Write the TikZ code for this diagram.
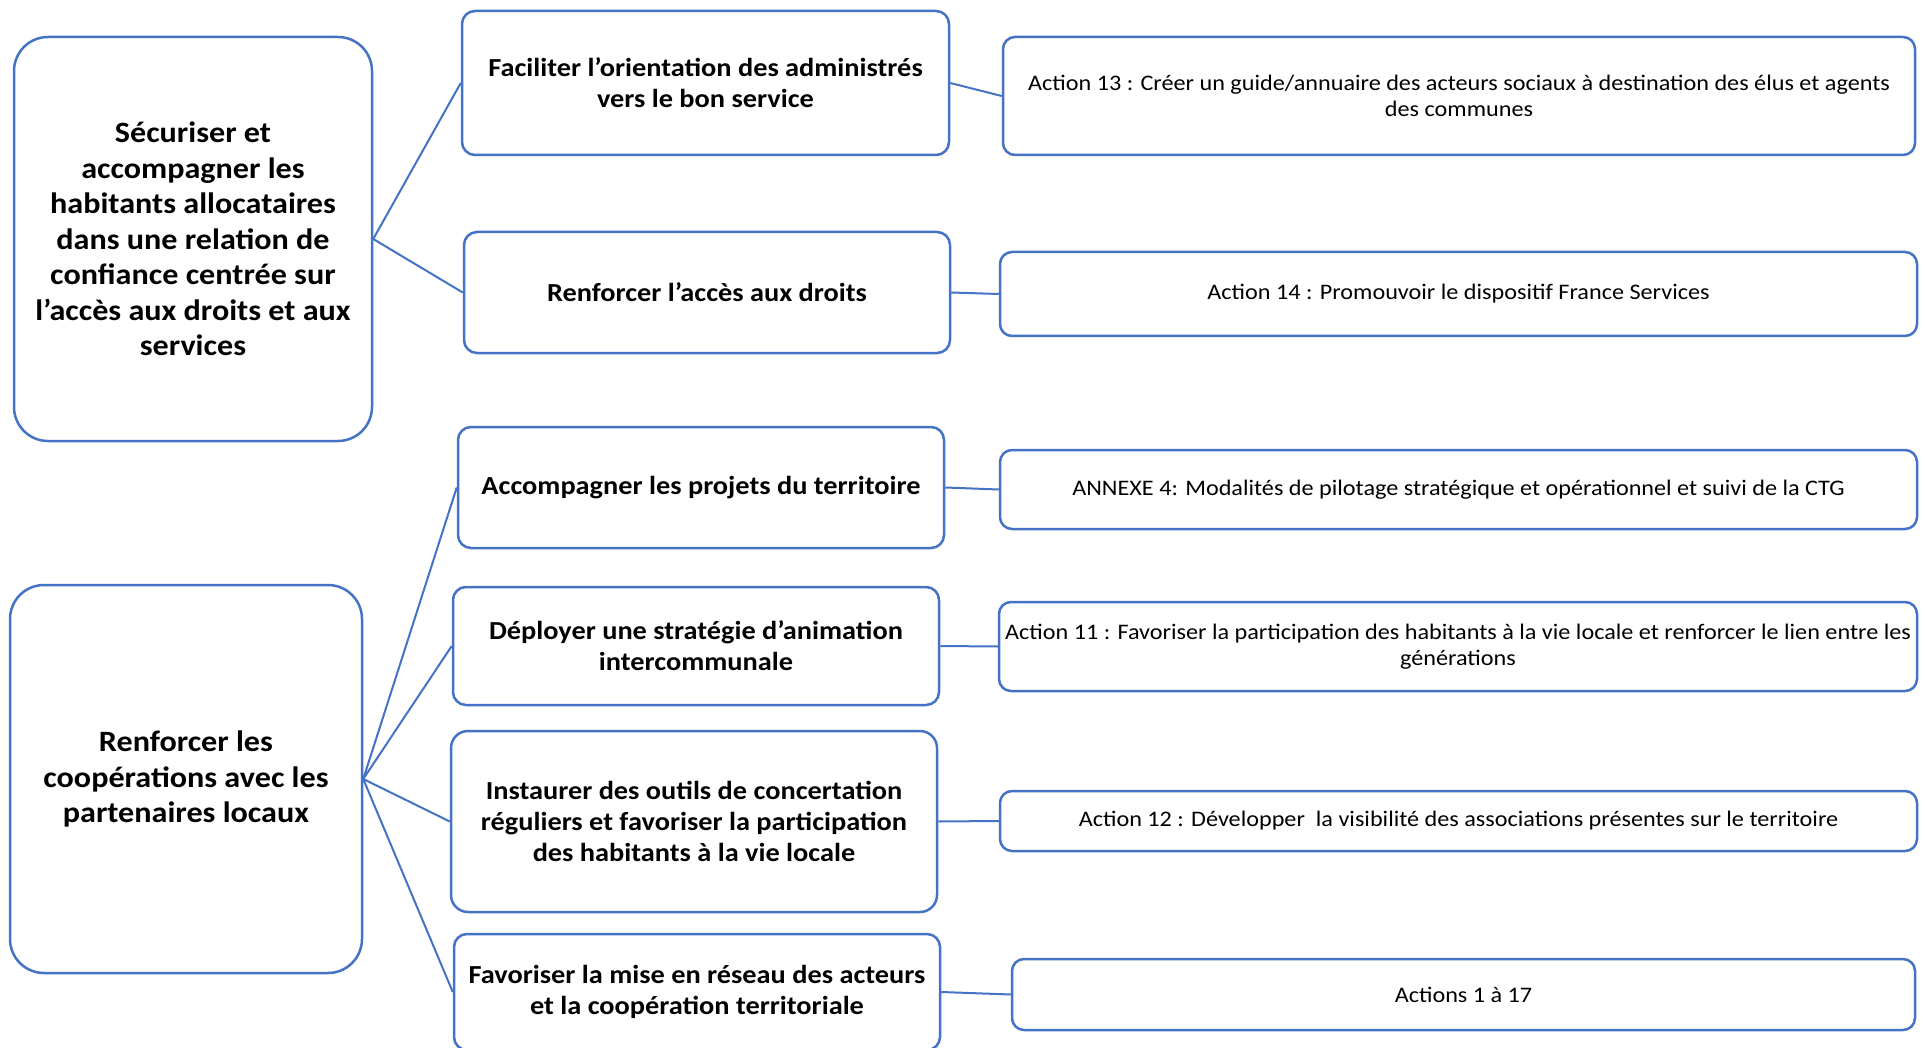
\documentclass[tikz,border=0pt]{standalone}
\usepackage{fontspec}
\setmainfont{Carlito}[FakeStretch=1.09]
\definecolor{obl}{RGB}{68,114,196}
\tikzset{
  box/.style={draw=obl, line width=2.5pt, rectangle, align=center, inner sep=0pt, text=black},
  big/.style={box, rounded corners=34pt, font=\fontsize{29.5}{35.5}\selectfont\bfseries},
  mid/.style={box, rounded corners=13pt, font=\fontsize{26}{31}\selectfont\bfseries},
  act/.style={box, rounded corners=12pt, font=\fontsize{22.2}{26.5}\selectfont},
  link/.style={draw=obl, line width=2pt}
}
\begin{document}
\begin{tikzpicture}[x=1pt,y=-1pt]
\useasboundingbox (0,0) rectangle (1929,1048);
\clip (0,0) rectangle (1929,1048);
% left column
\node[big, minimum width=358pt, minimum height=404pt] (A) at (193,239)
  {Sécuriser et\\accompagner les\\habitants allocataires\\dans une relation de\\confiance centrée sur\\l’accès aux droits et aux\\services};
\node[big, minimum width=352pt, minimum height=388pt] (D) at (186,779)
  {Renforcer les\\coopérations avec les\\partenaires locaux};
% middle column
\node[mid, minimum width=487pt, minimum height=144pt] (B1) at (705.5,83)
  {Faciliter l’orientation des administrés\\vers le bon service};
\node[mid, minimum width=486pt, minimum height=121pt] (B2) at (707,292.5)
  {Renforcer l’accès aux droits};
\node[mid, minimum width=486pt, minimum height=121pt] (E1) at (701,487.5)
  {Accompagner les projets du territoire};
\node[mid, minimum width=486pt, minimum height=118pt] (E2) at (696,646)
  {Déployer une stratégie d’animation\\intercommunale};
\node[mid, rounded corners=17pt, minimum width=486pt, minimum height=181pt] (E3) at (694,821.5)
  {Instaurer des outils de concertation\\réguliers et favoriser la participation\\des habitants à la vie locale};
\node[mid, minimum width=486pt, minimum height=116pt] (E4) at (697,992)
  {Favoriser la mise en réseau des acteurs\\et la coopération territoriale};
% right column
\node[act, minimum width=912pt, minimum height=118pt] (C1) at (1459,96)
  {Action 13 : Créer un guide/annuaire des acteurs sociaux à destination des élus et agents\\des communes};
\node[act, minimum width=917pt, minimum height=84pt] (C2) at (1458.5,294)
  {Action 14 : Promouvoir le dispositif France Services};
\node[act, minimum width=917pt, minimum height=79pt] (F1) at (1458.5,489.5)
  {ANNEXE 4: Modalités de pilotage stratégique et opérationnel et suivi de la CTG};
\node[act, minimum width=918pt, minimum height=89pt] (F2) at (1458,646.5)
  {Action 11 : Favoriser la participation des habitants à la vie locale et renforcer le lien entre les\\générations};
\node[act, minimum width=917pt, minimum height=60pt] (F3) at (1458.5,821)
  {Action 12 : Développer~ la visibilité des associations présentes sur le territoire};
\node[act, minimum width=903pt, minimum height=71pt] (F4) at (1463.5,994.5)
  {Actions 1 à 17};
% connectors
\draw[link] (A.east) -- (B1.west);
\draw[link] (A.east) -- (B2.west);
\draw[link] (B1.east) -- (C1.west);
\draw[link] (B2.east) -- (C2.west);
\draw[link] (D.east) -- (E1.west);
\draw[link] (D.east) -- (E2.west);
\draw[link] (D.east) -- (E3.west);
\draw[link] (D.east) -- (E4.west);
\draw[link] (E1.east) -- (F1.west);
\draw[link] (E2.east) -- (F2.west);
\draw[link] (E3.east) -- (F3.west);
\draw[link] (E4.east) -- (F4.west);
\end{tikzpicture}
\end{document}
